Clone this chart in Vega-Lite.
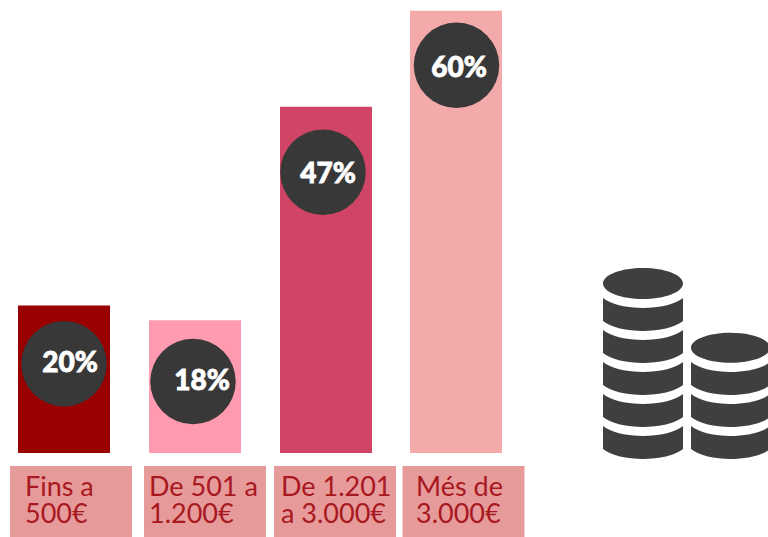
{
"$schema":"https://vega.github.io/schema/vega-lite/v6.json",
"width":768,"height":537,"padding":0,
"autosize":{"type":"fit","contains":"padding"},
"background":"#ffffff",
"view":{"stroke":null},
"data":{"values":[
{"cat":"a","value":20,"badge":12.1,"label":["Fins a","500€"],"pct":"20%"},
{"cat":"b","value":18,"badge":9.7,"label":["De 501 a","1.200€"],"pct":"18%"},
{"cat":"c","value":47,"badge":38.1,"label":["De 1.201","a 3.000€"],"pct":"47%"},
{"cat":"d","value":60,"badge":52.6,"label":["Més de","3.000€"],"pct":"60%"}
]},
"encoding":{
"x":{"field":"cat","type":"nominal","axis":null,"scale":{"type":"band","domain":["a","b","c","d","e","icon"],"range":[-1.5,784.5],"padding":0}}
},
"layer":[
{"mark":{"type":"bar","width":92,"xOffset":{"expr":"{a:0,b:0,c:0,d:-1}[datum.cat]"}},
 "encoding":{
  "y":{"field":"value","type":"quantitative","axis":null,"scale":{"domain":[-11.4,61.47],"nice":false,"zero":false}},
  "color":{"field":"cat","type":"nominal","legend":null,"scale":{"domain":["a","b","c","d"],"range":["#990000","#ff9bb0","#d04565","#f4aaaa"]}}
 }},
{"mark":{"type":"point","filled":true,"opacity":1,"size":7310,"color":"#383838","xOffset":{"expr":"{a:0,b:-2,c:-3,d:-0.5}[datum.cat]"}},
 "encoding":{"y":{"field":"badge","type":"quantitative"}}},
{"mark":{"type":"text","color":"#ffffff","stroke":"#ffffff","strokeWidth":0.8,"font":"Lato","fontWeight":900,"fontSize":28,"xOffset":{"expr":"{a:6,b:7,c:2,d:2}[datum.cat]"},"yOffset":{"expr":"{a:0,b:0,c:3,d:4}[datum.cat]"}},
 "encoding":{"y":{"field":"badge","type":"quantitative"},"text":{"field":"pct"}}},
{"mark":{"type":"bar","width":122,"color":"#e79a9a","xOffset":{"expr":"{a:7,b:10,c:9,d:6.5}[datum.cat]"}},
 "encoding":{"y":{"datum":-1.76},"y2":{"datum":-11.4}}},
{"mark":{"type":"text","color":"#a81820","font":"Lato","fontSize":27,"align":"left","baseline":"alphabetic","lineHeight":27,"xOffset":{"expr":"{a:-39,b:-46,c:-45,d:-41}[datum.cat]"}},
 "encoding":{"y":{"datum":-5.9},"text":{"field":"label"}}},
{"data":{"values":[{"cat":"icon","base":0,"path":"M-1.16,-1.695A0.4,0.155 0 1 1 -0.36,-1.695A0.4,0.155 0 1 1 -1.16,-1.695Z M-1.16,-1.55c0.16,0.133 0.64,0.133 0.8,0v0.23c-0.16,0.133 -0.64,0.133 -0.8,0z M-1.16,-1.23c0.16,0.133 0.64,0.133 0.8,0v0.23c-0.16,0.133 -0.64,0.133 -0.8,0z M-1.16,-0.91c0.16,0.133 0.64,0.133 0.8,0v0.23c-0.16,0.133 -0.64,0.133 -0.8,0z M-1.16,-0.59c0.16,0.133 0.64,0.133 0.8,0v0.23c-0.16,0.133 -0.64,0.133 -0.8,0z M-1.16,-0.27c0.16,0.133 0.64,0.133 0.8,0v0.23c-0.16,0.133 -0.64,0.133 -0.8,0z M-0.28,-1.053A0.395,0.15 0 1 1 0.51,-1.053A0.395,0.15 0 1 1 -0.28,-1.053Z M-0.28,-0.91c0.16,0.133 0.63,0.133 0.79,0v0.23c-0.16,0.133 -0.63,0.133 -0.79,0z M-0.28,-0.59c0.16,0.133 0.63,0.133 0.79,0v0.23c-0.16,0.133 -0.63,0.133 -0.79,0z M-0.28,-0.27c0.16,0.133 0.63,0.133 0.79,0v0.23c-0.16,0.133 -0.63,0.133 -0.79,0z"}]},
 "mark":{"type":"point","filled":true,"opacity":1,"size":40000,"color":"#3f3f3f"},
 "encoding":{"y":{"field":"base","type":"quantitative"},"shape":{"field":"path","type":"nominal","scale":null}}}
]
}
